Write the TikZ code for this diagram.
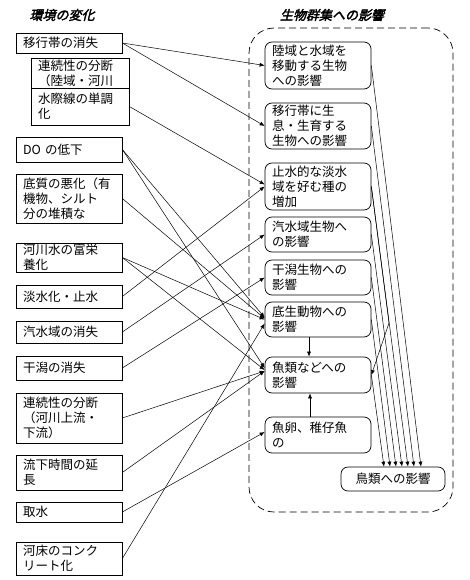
\documentclass[tikz,border=0pt]{standalone}
\usepackage{fontspec}
\setmainfont{Noto Sans CJK JP}
\newfontfamily\titulofont[FakeBold=2.5,FakeSlant=0.25]{Noto Sans CJK JP}
\usetikzlibrary{arrows.meta,calc}

\begin{document}
\begin{tikzpicture}[x=1pt,y=-1pt,>={Latex[length=5pt,width=4pt]},
  causa/.style={draw,rectangle,minimum width=106pt,text width=92pt,inner xsep=7pt,inner ysep=1pt,
    align=left,font=\fontsize{12.5}{14.8}\selectfont,line width=0.7pt},
  efecto/.style={causa,rounded corners=7pt},
  titulo/.style={font=\titulofont\fontsize{13}{15}\selectfont},
  flecha/.style={->,line width=0.5pt}]
  \useasboundingbox (0,0) rectangle (470,580);

  % Titulos
  \node[titulo] (tizq) at (62,15) {環境の変化};
  \node[titulo] (tder) at (332,15) {生物群集への影響};

  % Zona punteada
  \node[draw,dash pattern=on 7pt off 4pt,rounded corners=25pt,line width=0.7pt,
    minimum width=204pt,minimum height=484pt] (zona) at (351,270) {};

  % Columna izquierda
  \node[causa,minimum height=20pt] (L1) at (69,43) {移行帯の消失};
  \node[causa,minimum width=98pt,text width=84pt,minimum height=30pt] (S1) at (80,73) {連続性の分断\\（陸域・河川};
  \node[causa,minimum width=98pt,text width=84pt,minimum height=37pt] (S2) at (80,106.5) {水際線の単調\\化};
  \node[causa,minimum height=25pt] (L2) at (69,149.5) {DO の低下};
  \node[causa,minimum height=49pt] (L3) at (69,198.5) {底質の悪化（有\\機物、シルト\\分の堆積な};
  \node[causa,minimum height=29pt] (L4) at (69,257.5) {河川水の富栄\\養化};
  \node[causa,minimum height=23pt] (L5) at (69,296.5) {淡水化・止水};
  \node[causa,minimum height=22pt] (L6) at (69,332) {汽水域の消失};
  \node[causa,minimum height=24pt] (L7) at (69,368) {干潟の消失};
  \node[causa,minimum height=50pt] (L8) at (69,418) {連続性の分断\\（河川上流・\\下流）};
  \node[causa,minimum height=35pt] (L9) at (69,472.5) {流下時間の延\\長};
  \node[causa,minimum height=20pt] (L10) at (69,512) {取水};
  \node[causa,minimum height=33pt] (L11) at (69,558.5) {河床のコンク\\リート化};

  % Columna derecha
  \node[efecto,minimum height=47pt] (A) at (318,65.5) {陸域と水域を\\移動する生物\\への影響};
  \node[efecto,minimum height=46pt] (B) at (318,126) {移行帯に生\\息・生育する\\生物への影響};
  \node[efecto,minimum height=47pt] (C) at (318,186.5) {止水的な淡水\\域を好む種の\\増加};
  \node[efecto,minimum height=35pt] (D) at (318,234.5) {汽水域生物へ\\の影響};
  \node[efecto,minimum height=35pt] (E) at (318,277.5) {干潟生物への\\影響};
  \node[efecto,minimum height=35pt] (F) at (318,319.5) {底生動物への\\影響};
  \node[efecto,minimum height=36pt] (G) at (318,375) {魚類などへの\\影響};
  \node[efecto,minimum height=36pt] (H) at (318,435) {魚卵、稚仔魚\\の};
  \node[efecto,minimum width=104pt,text width=90pt,minimum height=24pt,align=center] (I) at (393,479) {鳥類への影響};

  % Flechas de izquierda a derecha
  \draw[flecha] (L1.east) -- (A.west);
  \draw[flecha] (L1.east) -- (B.west);
  \draw[flecha] (S2.east) -- ($(C.west)+(0,-2)$);
  \draw[flecha] (L5.east) -- (C.west);
  \draw[flecha] (L6.east) -- (D.west);
  \draw[flecha] (L7.east) -- (E.west);
  \draw[flecha] (L2.east) -- ($(F.west)+(0,-2)$);
  \draw[flecha] (L3.east) -- ($(F.west)+(0,-1)$);
  \draw[flecha] (L4.east) -- (F.west);
  \draw[flecha] (L11.east) -- ($(F.west)+(0,4)$);
  \draw[flecha] (L2.east) -- ($(G.west)+(0,-7)$);
  \draw[flecha] (L4.east) -- ($(G.west)+(0,-5)$);
  \draw[flecha] (L8.east) -- ($(G.west)+(0,-4)$);
  \draw[flecha] (L9.east) -- ($(G.west)+(0,-4)$);
  \draw[flecha] (L10.east) -- ($(H.west)+(0,-3)$);

  % Flechas dentro de la zona
  \draw[flecha] ($(F.south)+(-9,0)$) -- ($(G.north)+(-9,0)$);
  \draw[flecha] ($(H.north)+(-8,0)$) -- ($(G.south)+(-8,0)$);
  \coordinate (codo) at (389,323);
  \draw[flecha] (C.east) -- (codo) -- (G.east);

  % Hacia aves
  \draw[flecha] (A.east) -- ($(I.north)+(28,0)$);
  \draw[flecha] (B.east) -- ($(I.north)+(21,0)$);
  \draw[flecha] (C.east) -- ($(I.north)+(15,0)$);
  \draw[flecha] (D.east) -- ($(I.north)+(9,0)$);
  \draw[flecha] (E.east) -- ($(I.north)+(3,0)$);
  \draw[flecha] (F.east) -- ($(I.north)+(-3,0)$);
  \draw[flecha] (G.east) -- ($(I.north)+(-9,0)$);
\end{tikzpicture}
\end{document}
